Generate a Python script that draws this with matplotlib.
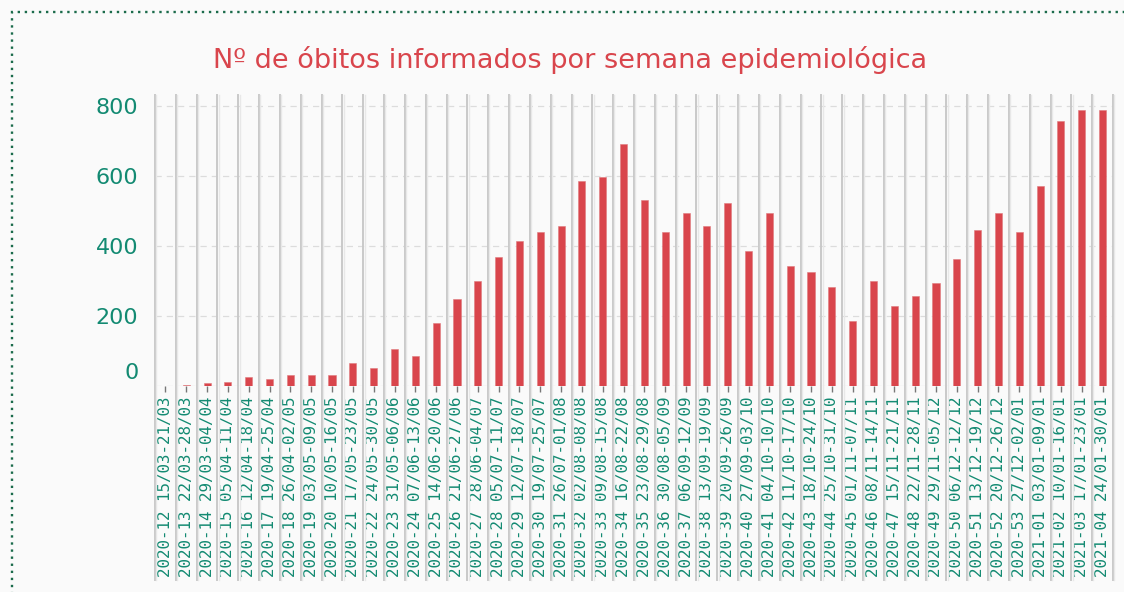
import numpy as np
import matplotlib.pyplot as plt
import matplotlib.transforms as mtransforms
from matplotlib.patches import Rectangle

# semanas epidemiológicas e intervalo de datas
weeks = ['2020-12', '2020-13', '2020-14', '2020-15', '2020-16', '2020-17',
         '2020-18', '2020-19', '2020-20', '2020-21', '2020-22', '2020-23',
         '2020-24', '2020-25', '2020-26', '2020-27', '2020-28', '2020-29',
         '2020-30', '2020-31', '2020-32', '2020-33', '2020-34', '2020-35',
         '2020-36', '2020-37', '2020-38', '2020-39', '2020-40', '2020-41',
         '2020-42', '2020-43', '2020-44', '2020-45', '2020-46', '2020-47',
         '2020-48', '2020-49', '2020-50', '2020-51', '2020-52', '2020-53',
         '2021-01', '2021-02', '2021-03', '2021-04']
periods = ['15/03-21/03', '22/03-28/03', '29/03-04/04', '05/04-11/04',
           '12/04-18/04', '19/04-25/04', '26/04-02/05', '03/05-09/05',
           '10/05-16/05', '17/05-23/05', '24/05-30/05', '31/05-06/06',
           '07/06-13/06', '14/06-20/06', '21/06-27/06', '28/06-04/07',
           '05/07-11/07', '12/07-18/07', '19/07-25/07', '26/07-01/08',
           '02/08-08/08', '09/08-15/08', '16/08-22/08', '23/08-29/08',
           '30/08-05/09', '06/09-12/09', '13/09-19/09', '20/09-26/09',
           '27/09-03/10', '04/10-10/10', '11/10-17/10', '18/10-24/10',
           '25/10-31/10', '01/11-07/11', '08/11-14/11', '15/11-21/11',
           '22/11-28/11', '29/11-05/12', '06/12-12/12', '13/12-19/12',
           '20/12-26/12', '27/12-02/01', '03/01-09/01', '10/01-16/01',
           '17/01-23/01', '24/01-30/01']
deaths = [0, 1, 8, 12, 26, 18, 31, 31, 31, 66, 50, 104, 84, 180, 247, 300,
          369, 414, 440, 457, 585, 595, 692, 531, 440, 493, 457, 523, 385,
          493, 343, 324, 281, 186, 300, 228, 257, 294, 361, 445, 493, 440,
          571, 757, 788, 788]
yticks = [0, 200, 400, 600, 800]

RED = '#d9454c'
TEAL = '#138a72'
BG = '#fafafa'

fig = plt.figure(figsize=(11.24, 5.92), dpi=100, facecolor=BG)
ax = fig.add_axes([155 / 1124, 1 - 385.7 / 592, (1113 - 155) / 1124, (385.7 - 95) / 592])
ax.set_facecolor(BG)

x = np.arange(len(deaths))
labels = [f'{w} {p}' for w, p in zip(weeks, periods)]

# vertical separators, running down through the tick labels
ext = -(580 - 385.7) / (385.7 - 95)
for b in np.arange(len(deaths) + 1) - 0.5:
    ax.plot([b, b], [ext, 1], transform=ax.get_xaxis_transform(),
            color='#c9c9c9', lw=1.4, clip_on=False, zorder=1)
    ax.plot([b + 0.06, b + 0.06], [ext, 1], transform=ax.get_xaxis_transform(),
            color='#e8e8e8', lw=1.0, clip_on=False, zorder=1)

ax.bar(x, deaths, width=0.34, color=RED, edgecolor='#e07a7e', linewidth=0.4, zorder=3)

ax.set_xlim(-0.5, len(deaths) - 0.5)
ax.set_ylim(0, 830.6)
ax.set_yticks(yticks)
ax.set_yticklabels([str(v) for v in yticks])
ax.grid(axis='y', color='#dcdcdc', linestyle=(0, (5, 4)), linewidth=0.9, zorder=0)
ax.set_axisbelow(True)

ax.set_xticks(x)
ax.set_xticklabels(labels, rotation=90, family='DejaVu Sans Mono', fontsize=11.4, color=TEAL)
ax.tick_params(axis='x', length=4, width=1, color='#777777', pad=4)
ax.tick_params(axis='y', length=0, pad=12, labelsize=16, labelcolor=TEAL)

# the zero label sits a little above the baseline
zero = ax.get_yticklabels()[0]
zero.set_transform(zero.get_transform() + mtransforms.ScaledTranslation(0, 15 / 100, fig.dpi_scale_trans))

for s in ax.spines.values():
    s.set_visible(False)

fig.text(570 / 1124, 1 - 60 / 592, 'Nº de óbitos informados por semana epidemiológica',
         ha='center', va='center', fontsize=19.5, color=RED)

# dotted frame around the panel
fig.patches.append(Rectangle((12 / 1124, -0.1), 1.2, 1 - 12 / 592 + 0.1,
                             transform=fig.transFigure, fill=False,
                             edgecolor='#1b6b4b', lw=1.7, linestyle=(0, (1, 2))))

fig.savefig('out.png', dpi=100, facecolor=BG)
